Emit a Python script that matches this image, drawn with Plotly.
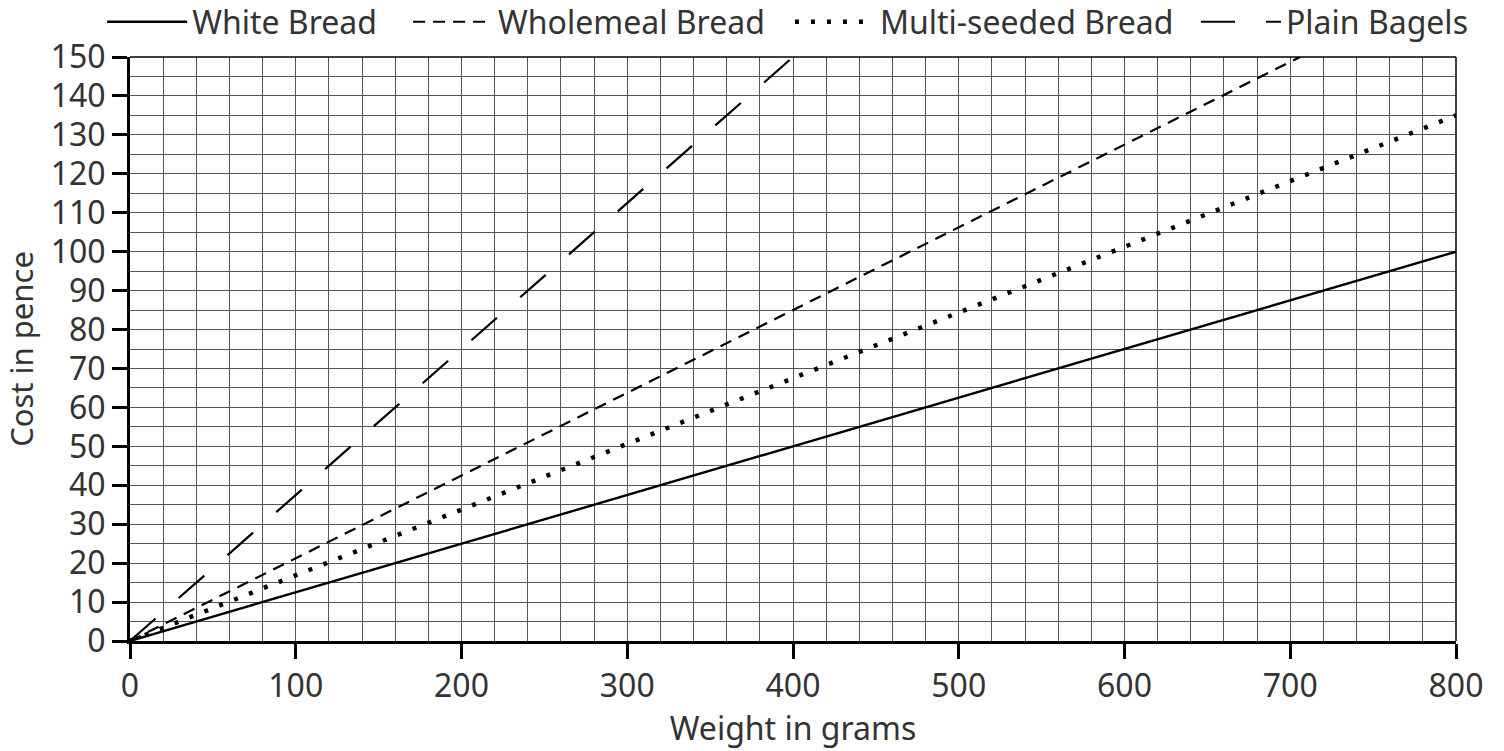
import plotly.graph_objects as go

# data
weights = [0, 800]
white_bread = [0, 100]
wholemeal_bread = [0, 170]
multi_seeded_bread = [0, 135]
plain_bagels = [0, 300]

# name, values, dash, width, legend id, legend x (paper)
series = [
    ("White Bread", white_bread, "solid", 2.4, "legend", -0.021),
    ("Wholemeal Bread", wholemeal_bread, "12px,8px", 2.2, "legend2", 0.2097),
    ("Multi-seeded Bread", multi_seeded_bread, "4px,12px", 4.5, "legend3", 0.4977),
    ("Plain Bagels", plain_bagels, "34px,31px", 2.2, "legend4", 0.8039),
]

font = "Noto Sans"
text_color = "#333"
grid = "#555"

fig = go.Figure()
for name, vals, dash, width, leg, lx in series:
    fig.add_trace(go.Scatter(
        x=weights, y=vals, name=name, mode="lines", legend=leg,
        line=dict(color="black", dash=dash, width=width),
    ))

fig.update_xaxes(
    range=[0, 800], dtick=100, tick0=0,
    showline=True, linewidth=3, linecolor="black",
    ticks="outside", ticklen=15, tickwidth=3, tickcolor="black",
    showgrid=True, gridcolor=grid, gridwidth=1,
    minor=dict(dtick=20, showgrid=True, gridcolor=grid, gridwidth=1),
    zeroline=False,
    tickfont=dict(size=32, color=text_color, family=font),
    title=dict(text="Weight in grams", font=dict(size=32, color=text_color, family=font), standoff=10),
)
fig.update_yaxes(
    range=[0, 150], dtick=10, tick0=0,
    showline=True, linewidth=3, linecolor="black",
    ticks="outside", ticklen=15, tickwidth=3, tickcolor="black",
    showgrid=True, gridcolor=grid, gridwidth=1,
    minor=dict(dtick=5, showgrid=True, gridcolor=grid, gridwidth=1),
    zeroline=False,
    tickfont=dict(size=32, color=text_color, family=font),
    title=dict(text="Cost in pence", font=dict(size=31, color=text_color, family=font), standoff=8),
)

# thin border on top and right
fig.add_shape(type="line", xref="paper", yref="paper", x0=0, x1=1, y0=1, y1=1,
              line=dict(color="black", width=1.5))
fig.add_shape(type="line", xref="paper", yref="paper", x0=1, x1=1, y0=0, y1=1,
              line=dict(color="black", width=1.5))

legends = {}
for name, vals, dash, width, leg, lx in series:
    legends[leg] = dict(
        orientation="h", x=lx, xanchor="left", y=1.06, yanchor="middle",
        font=dict(size=32, color=text_color, family=font),
        itemwidth=80, bgcolor="rgba(0,0,0,0)",
    )

fig.update_layout(
    width=1504, height=751,
    margin=dict(l=130, r=48, t=57, b=110, autoexpand=False),
    plot_bgcolor="white", paper_bgcolor="white",
    showlegend=True,
    **legends,
)

fig.write_html("out.html", config={"displayModeBar": False},
               post_script="document.body.style.margin='0';")
